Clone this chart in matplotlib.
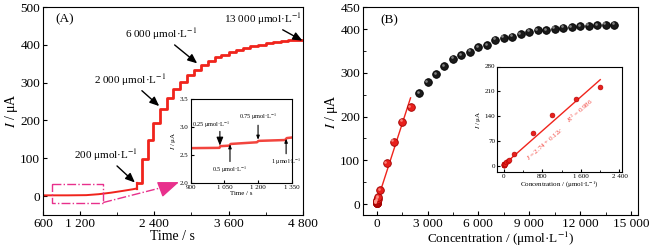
import matplotlib
matplotlib.use('Agg')
import matplotlib.pyplot as plt
import matplotlib.transforms as mtrans

plt.rcParams['font.family'] = ['Liberation Serif', 'DejaVu Serif']
plt.rcParams['mathtext.fontset'] = 'stix'
plt.rcParams['xtick.direction'] = 'in'
plt.rcParams['ytick.direction'] = 'in'

RED = '#f0241c'
MAG = '#e8308c'
UNIT = r'μmol·L$^{-1}$'

# (A) amperometric response, baseline then staircase
base_t = [600, 1000, 1300, 1500, 1700, 1900, 2050, 2113]
base_i = [2, 2, 2.5, 5, 9, 14, 18, 20]
step_t = [2113, 2194, 2291, 2382, 2490, 2598, 2705, 2813, 2932, 3039, 3147, 3271,
          3378, 3486, 3610, 3728, 3836, 3955, 4078, 4202, 4321, 4445, 4568, 4687, 4800]
step_i = [35, 97, 147, 193, 230, 259, 283, 303, 319, 334, 347, 358,
          367, 374, 381, 387, 391, 396, 400, 404, 407, 410, 412, 414, 414]

# inset of (A)
ins_t = [900, 1028, 1032, 1072, 1078, 1195, 1202, 1320, 1328, 1350]
ins_i = [2.62, 2.625, 2.655, 2.665, 2.695, 2.725, 2.75, 2.765, 2.80, 2.81]

# (B) calibration
conc_low = [0.25, 0.5, 0.75, 1, 2.5, 5, 7.5, 10, 25, 50, 75, 100, 200, 600, 1000, 1500, 2000]
cur_low = [2.65, 2.69, 2.74, 2.8, 3.0, 3.5, 4.0, 4.5, 6, 9, 12, 16, 32, 93, 143, 188, 222]
conc_high = [2500, 3000, 3500, 4000, 4500, 5000, 5500, 6000, 6500, 7000, 7500, 8000,
             8500, 9000, 9500, 10000, 10500, 11000, 11500, 12000, 12500, 13000, 13500, 14000]
cur_high = [254, 278, 297, 315, 332, 341, 348, 359, 363, 376, 380, 383,
            389, 394, 397, 398, 401, 403, 405, 407, 408, 409, 410, 410]
fit_c = [0, 2000]
fit_i = [2.74, 242.74]


def spheres(ax, x, y, face, edge, hl, ms):
    ax.plot(x, y, 'o', ms=ms, mfc=face, mec=edge, mew=0.6, zorder=3)
    tr = mtrans.offset_copy(ax.transData, fig=ax.figure, x=-ms * 0.18, y=ms * 0.18, units='points')
    ax.plot(x, y, 'o', ms=ms * 0.35, mfc=hl, mec='none', alpha=0.8, transform=tr, zorder=4)


fig = plt.figure(figsize=(6.56, 2.5), dpi=100)

# ---------------- (A)
ax1 = fig.add_axes([0.0655, 0.14, 0.396, 0.832])
ax1.plot(base_t, base_i, color=RED, lw=1.4)
ax1.step(step_t, step_i, where='post', color=RED, lw=2.0)
ax1.plot([base_t[-1], step_t[0]], [base_i[-1], step_i[0]], color=RED, lw=1.6)
ax1.set_xlim(600, 4800)
ax1.set_ylim(-50, 500)
ax1.set_xticks([600, 1200, 2400, 3600, 4800])
ax1.set_xticklabels(['600', '1 200', '2 400', '3 600', '4 800'])
ax1.set_xticks([1800, 3000, 4200], minor=True)
ax1.set_yticks([0, 100, 200, 300, 400, 500])
ax1.tick_params(labelsize=9.5, length=3, pad=2)
ax1.tick_params(which='minor', length=2)
ax1.set_xlabel('Time / s', fontsize=10, labelpad=0)
ax1.set_ylabel(r'$I$ / μA', fontsize=10, labelpad=0)
ax1.text(0.048, 0.925, '(A)', transform=ax1.transAxes, fontsize=9.5)

arrow_kw = dict(arrowstyle='-|>,head_length=0.7,head_width=0.3', color='black', lw=1.0, shrinkA=0, shrinkB=0)
ax1.annotate('200 ' + UNIT, xy=(2086, 36), xytext=(1610, 108), fontsize=8, ha='center', va='center',
             arrowprops=arrow_kw)
ax1.annotate('2 000 ' + UNIT, xy=(2479, 238), xytext=(2005, 307), fontsize=8, ha='center', va='center',
             arrowprops=arrow_kw)
ax1.annotate('6 000 ' + UNIT, xy=(3093, 351), xytext=(2517, 428), fontsize=8, ha='center', va='center',
             arrowprops=arrow_kw)
ax1.annotate('13 000 ' + UNIT, xy=(4795, 411), xytext=(4162, 468), fontsize=8, ha='center', va='center',
             arrowprops=arrow_kw)

# zoom box + arrow
ax1.plot([740, 1574, 1574, 740, 740], [32, 32, -19, -19, 32], color=MAG, lw=1.0, ls='-.')
ax1.plot([1574, 2700], [-17, 30], color=MAG, lw=1.0, ls='-.')
ax1.annotate('', xy=(2800, 37), xytext=(2560, 22),
             arrowprops=dict(arrowstyle='-|>,head_length=1.3,head_width=0.5', color=MAG, lw=1.0,
                             shrinkA=0, shrinkB=0))

# inset (A)
ia = fig.add_axes([0.2907, 0.269, 0.154, 0.335])
ia.plot(ins_t, ins_i, color=RED, lw=1.8, alpha=0.85)
ia.set_xlim(900, 1350)
ia.set_ylim(2.0, 3.5)
ia.set_xticks([900, 1050, 1200, 1350])
ia.set_xticklabels(['900', '1 050', '1 200', '1 350'])
ia.set_yticks([2.0, 2.5, 3.0, 3.5])
ia.tick_params(labelsize=5, length=2, pad=1.5)
ia.set_xlabel('Time / s', fontsize=5, labelpad=0.5)
ia.set_ylabel(r'$I$ / μA', fontsize=5, labelpad=1)
small_kw = dict(arrowstyle='-|>,head_length=0.5,head_width=0.2', color='black', lw=0.8, shrinkA=0, shrinkB=0)
ia.text(990, 2.95, '0.25 ' + UNIT, fontsize=4.5, ha='center', va='bottom')
ia.annotate('', xy=(1030, 2.665), xytext=(1030, 2.92), arrowprops=small_kw)
ia.annotate('0.5 ' + UNIT, xy=(1075, 2.69), xytext=(1075, 2.33), fontsize=4.5, ha='center', va='top',
            arrowprops=small_kw)
ia.annotate('0.75 ' + UNIT, xy=(1200, 2.77), xytext=(1200, 3.08), fontsize=4.5, ha='center', va='bottom',
            arrowprops=small_kw)
ia.annotate('1 ' + UNIT, xy=(1325, 2.79), xytext=(1325, 2.47), fontsize=4.5, ha='center', va='top',
            arrowprops=small_kw)

# ---------------- (B)
ax2 = fig.add_axes([0.5534, 0.14, 0.419, 0.831])
ax2.plot(fit_c, fit_i, color=RED, lw=1.0, zorder=2)
spheres(ax2, conc_high, cur_high, '#1a1a1a', '#000000', '#9a9a9a', 5.5)
spheres(ax2, conc_low, cur_low, '#e8201c', '#a00000', '#ff9a90', 5.5)
ax2.set_xlim(-800, 15400)
ax2.set_ylim(-25, 450)
ax2.set_xticks([0, 3000, 6000, 9000, 12000, 15000])
ax2.set_xticklabels(['0', '3 000', '6 000', '9 000', '12 000', '15 000'])
ax2.set_xticks([1500, 4500, 7500, 10500, 13500], minor=True)
ax2.set_yticks([0, 100, 200, 300, 400, 450])
ax2.set_yticks([50, 150, 250, 350], minor=True)
ax2.tick_params(labelsize=9.5, length=3, pad=2)
ax2.tick_params(which='minor', length=2)
ax2.set_xlabel('Concentration / (' + UNIT + ')', fontsize=9.5, labelpad=0)
ax2.set_ylabel(r'$I$ / μA', fontsize=10, labelpad=0)
ax2.text(0.063, 0.925, '(B)', transform=ax2.transAxes, fontsize=9.5)

# inset (B)
ib = fig.add_axes([0.758, 0.312, 0.19, 0.422])
ib.plot(fit_c, fit_i, color=RED, lw=1.0)
ib.plot(conc_low, cur_low, 'o', ms=3.5, mfc='#e8201c', mec='#b00000', mew=0.4)
ib.set_xlim(-140, 2450)
ib.set_ylim(-18, 280)
ib.set_xticks([0, 800, 1600, 2400])
ib.set_xticklabels(['0', '800', '1 600', '2 400'])
ib.set_xticks([400, 1200, 2000], minor=True)
ib.set_yticks([0, 70, 140, 210, 280])
ib.tick_params(labelsize=5, length=2, pad=1.5)
ib.tick_params(which='minor', length=1.2)
ib.set_xlabel('Concentration / (' + UNIT + ')', fontsize=5, labelpad=0.5)
ib.set_ylabel(r'$I$ / μA', fontsize=5, labelpad=1)
ib.text(854, 62, r'$I$ = 2.74 + 0.12$c$', color=RED, fontsize=5, rotation=41,
        ha='center', va='center', alpha=0.85)
ib.text(1583, 155, r'$R^2$ = 0.986', color=RED, fontsize=5, rotation=41,
        ha='center', va='center', alpha=0.85)

fig.savefig('out.png', dpi=100)
